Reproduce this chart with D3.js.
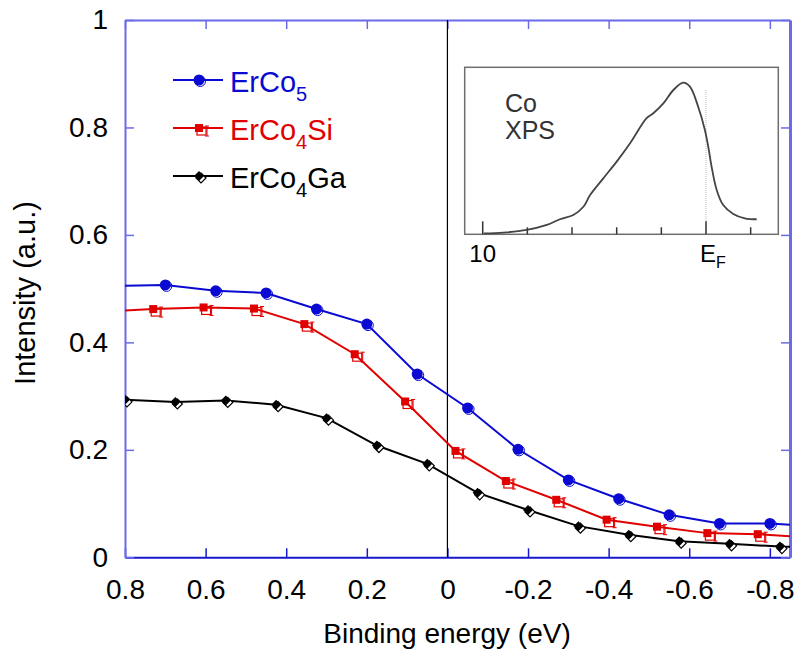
<!DOCTYPE html>
<html>
<head>
<meta charset="utf-8">
<script src="https://cdn.jsdelivr.net/npm/d3@7/dist/d3.min.js"></script>
<style>
  body { margin: 0; background: #fff; }
  text { font-family: "Liberation Sans", Arial, sans-serif; }
</style>
</head>
<body>
<svg id="chart" width="795" height="651"></svg>
<script>
// Valence-band intensity near the Fermi level (binding energy in eV, positive = below EF)
const erco5Energy   = [0.825, 0.7, 0.575, 0.45, 0.325, 0.2, 0.075, -0.05, -0.175, -0.3, -0.425, -0.55, -0.675, -0.8, -0.925];
const erco5Value    = [0.505, 0.507, 0.496, 0.492, 0.462, 0.434, 0.341, 0.278, 0.201, 0.144, 0.109, 0.079, 0.063, 0.063, 0.057];

const erco4siEnergy = [0.855, 0.73, 0.605, 0.48, 0.355, 0.23, 0.105, -0.02, -0.145, -0.27, -0.395, -0.52, -0.645, -0.77, -0.895];
const erco4siValue  = [0.457, 0.462, 0.465, 0.463, 0.434, 0.378, 0.290, 0.198, 0.142, 0.107, 0.070, 0.057, 0.045, 0.043, 0.037];

const erco4gaEnergy = [0.8, 0.675, 0.55, 0.425, 0.3, 0.175, 0.05, -0.075, -0.2, -0.325, -0.45, -0.575, -0.7, -0.825, -0.95];
const erco4gaValue  = [0.293, 0.289, 0.292, 0.284, 0.259, 0.208, 0.174, 0.120, 0.088, 0.058, 0.042, 0.030, 0.025, 0.020, 0.019];

const xTicks = [0.8, 0.6, 0.4, 0.2, 0, -0.2, -0.4, -0.6, -0.8];
const yTicks = [0, 0.2, 0.4, 0.6, 0.8, 1];

// Co XPS valence band shown in the inset (binding energy in eV, normalised intensity)
const xpsEnergy = [9.95, 9.08, 8.03, 7.13, 6.54, 5.94, 5.49, 5.19, 4.60, 4.00, 3.40, 2.66, 2.36, 1.91, 1.46, 1.02, 0.72, 0.35, 0.05, -0.10, -0.25, -0.48, -0.77, -1.22, -1.74, -2.27];
const xpsValue  = [0.005, 0.010, 0.026, 0.056, 0.090, 0.116, 0.165, 0.235, 0.335, 0.435, 0.545, 0.695, 0.725, 0.784, 0.864, 0.908, 0.884, 0.764, 0.625, 0.525, 0.405, 0.265, 0.175, 0.122, 0.096, 0.090];
const xpsTicks  = [10, 8, 6, 4, 2, 0, -2];
const xpsMajorTicks = [10, 0];

const series = [
  { name: "ErCo", sub: "5", tail: "", energy: erco5Energy, value: erco5Value, color: "#0a0ad2", marker: "circle" },
  { name: "ErCo", sub: "4", tail: "Si", energy: erco4siEnergy, value: erco4siValue, color: "#e00000", marker: "square" },
  { name: "ErCo", sub: "4", tail: "Ga", energy: erco4gaEnergy, value: erco4gaValue, color: "#000000", marker: "diamond" }
];

const svg = d3.select("#chart");
svg.append("rect").attr("width", 795).attr("height", 651).attr("fill", "#fff");

const plot = { left: 125, right: 790, top: 20, bottom: 557.3 };
const x = d3.scaleLinear().domain([0.8, -0.85]).range([plot.left, plot.right]);
const y = d3.scaleLinear().domain([0, 1]).range([plot.bottom, plot.top]);
const fmt = d => String(+d.toFixed(1));

svg.append("clipPath").attr("id", "plot-clip")
  .append("rect")
  .attr("x", plot.left).attr("y", plot.top)
  .attr("width", plot.right - plot.left).attr("height", plot.bottom - plot.top);

// Frame axes with inward ticks
const axisLight = "#6b6be6";
const axisDark = "#1818cc";

const gBottom = svg.append("g").attr("transform", `translate(0,${plot.bottom})`)
  .call(d3.axisBottom(x).tickValues(xTicks).tickFormat(fmt).tickSizeInner(-9).tickSizeOuter(0).tickPadding(22));
const gTop = svg.append("g").attr("transform", `translate(0,${plot.top})`)
  .call(d3.axisTop(x).tickValues(xTicks).tickFormat("").tickSizeInner(-9).tickSizeOuter(0));
const gLeft = svg.append("g").attr("transform", `translate(${plot.left},0)`)
  .call(d3.axisLeft(y).tickValues(yTicks).tickFormat(fmt).tickSizeInner(-9).tickSizeOuter(0).tickPadding(17));
const gRight = svg.append("g").attr("transform", `translate(${plot.right},0)`)
  .call(d3.axisRight(y).tickValues(yTicks).tickFormat("").tickSizeInner(-9).tickSizeOuter(0));

[gTop, gLeft, gRight].forEach(g => {
  g.select(".domain").attr("stroke", axisLight).attr("stroke-width", 2);
  g.selectAll(".tick line").attr("stroke", axisLight).attr("stroke-width", 1.5);
});
gBottom.select(".domain").attr("stroke", axisDark).attr("stroke-width", 2);
gBottom.selectAll(".tick line").attr("stroke", axisDark).attr("stroke-width", 1.5);
gRight.select(".domain").attr("stroke-width", 3);

[gBottom, gLeft].forEach(g => {
  g.selectAll(".tick text")
    .attr("fill", "#000")
    .style("font-family", "'Liberation Sans', Arial, sans-serif")
    .style("font-size", "28px");
});

// Fermi level
svg.append("line")
  .attr("x1", x(0)).attr("x2", x(0))
  .attr("y1", y(0)).attr("y2", y(1))
  .attr("stroke", "#000").attr("stroke-width", 1.2);

// Marker shapes: filled symbol with an offset outlined copy
function drawMarker(g, kind, color) {
  if (kind === "circle") {
    g.append("circle").attr("cx", 1.2).attr("cy", 1.2).attr("r", 5.3)
      .attr("fill", "none").attr("stroke", color).attr("stroke-width", 1);
    g.append("circle").attr("r", 5.5).attr("fill", color);
  } else if (kind === "square") {
    g.append("rect").attr("x", -2).attr("y", -1).attr("width", 9).attr("height", 8)
      .attr("fill", "none").attr("stroke", color).attr("stroke-width", 1.2);
    g.append("path").attr("d", "M8,-2 V8 M6,-2 H10 M6,8 H10")
      .attr("fill", "none").attr("stroke", color).attr("stroke-width", 1);
    g.append("rect").attr("x", -4).attr("y", -4).attr("width", 8).attr("height", 8).attr("fill", color);
  } else {
    g.append("path").attr("d", "M2,-3 L7,2 L2,7 L-3,2 Z")
      .attr("fill", "#fff").attr("stroke", color).attr("stroke-width", 1.2);
    g.append("path").attr("d", "M0,-5 L5,0 L0,5 L-5,0 Z").attr("fill", color);
  }
}

const line = d3.line().x(d => x(d[0])).y(d => y(d[1]));
const dataLayer = svg.append("g").attr("clip-path", "url(#plot-clip)");

series.forEach(s => {
  const pts = s.energy.map((e, i) => [e, s.value[i]]);
  dataLayer.append("path").datum(pts)
    .attr("d", line).attr("fill", "none")
    .attr("stroke", s.color).attr("stroke-width", 2);
  const visible = pts.filter(p => p[0] <= 0.8001 && p[0] >= -0.85);
  dataLayer.selectAll(null).data(visible).enter().append("g")
    .attr("transform", d => `translate(${x(d[0])},${y(d[1])})`)
    .each(function() { drawMarker(d3.select(this), s.marker, s.color); });
});

// Legend
const legend = svg.append("g");
series.forEach((s, i) => {
  const ly = 80 + i * 48;
  legend.append("line").attr("x1", 173).attr("x2", 223).attr("y1", ly).attr("y2", ly)
    .attr("stroke", s.color).attr("stroke-width", 2);
  drawMarker(legend.append("g").attr("transform", `translate(199,${ly})`), s.marker, s.color);
  const t = legend.append("text").attr("x", 230).attr("y", ly + 12)
    .attr("fill", s.color).style("font-size", "29px");
  t.append("tspan").text(s.name);
  t.append("tspan").attr("dy", 9).style("font-size", "20px").text(s.sub);
  if (s.tail) t.append("tspan").attr("dy", -9).text(s.tail);
});

// Axis titles
svg.append("text").attr("x", 447).attr("y", 643).attr("text-anchor", "middle")
  .style("font-size", "28px").text("Binding energy (eV)");
svg.append("text").attr("transform", "translate(25,293) rotate(-90)")
  .attr("text-anchor", "middle").attr("dy", "0.35em")
  .style("font-size", "29px").text("Intensity (a.u.)");

// Inset: Co XPS valence band
const inset = { left: 464.7, right: 778.3, top: 67.3, bottom: 234.3 };
const ix = d3.scaleLinear().domain([10, 0]).range([482.7, 706]);
const iy = d3.scaleLinear().domain([0, 1]).range([inset.bottom, inset.top]);
const gi = svg.append("g");
gi.append("rect")
  .attr("x", inset.left).attr("y", inset.top)
  .attr("width", inset.right - inset.left).attr("height", inset.bottom - inset.top)
  .attr("fill", "#fff").attr("stroke", "#6e6e6e").attr("stroke-width", 1.5);
gi.append("line")
  .attr("x1", ix(0)).attr("x2", ix(0)).attr("y1", 90).attr("y2", inset.bottom)
  .attr("stroke", "#bbb").attr("stroke-width", 1).attr("stroke-dasharray", "1,1");
gi.selectAll(null).data(xpsTicks).enter().append("line")
  .attr("x1", d => ix(d)).attr("x2", d => ix(d))
  .attr("y1", inset.bottom)
  .attr("y2", d => inset.bottom - (xpsMajorTicks.includes(d) ? 13 : 7))
  .attr("stroke", "#333").attr("stroke-width", 1.5);
gi.append("path")
  .datum(xpsEnergy.map((e, i) => [e, xpsValue[i]]))
  .attr("d", d3.line().x(d => ix(d[0])).y(d => iy(d[1])).curve(d3.curveCatmullRom))
  .attr("fill", "none").attr("stroke", "#444").attr("stroke-width", 1.8);
gi.append("text").attr("x", 505).attr("y", 111.5).attr("fill", "#333")
  .style("font-size", "25px").text("Co");
gi.append("text").attr("x", 505).attr("y", 138.5).attr("fill", "#333")
  .style("font-size", "25px").text("XPS");
gi.append("text").attr("x", ix(10)).attr("y", 262).attr("text-anchor", "middle")
  .style("font-size", "24px").text("10");
const ef = gi.append("text").attr("x", ix(0) - 6).attr("y", 262).style("font-size", "24px");
ef.append("tspan").text("E");
ef.append("tspan").attr("dy", 6).style("font-size", "16px").text("F");
</script>
</body>
</html>
